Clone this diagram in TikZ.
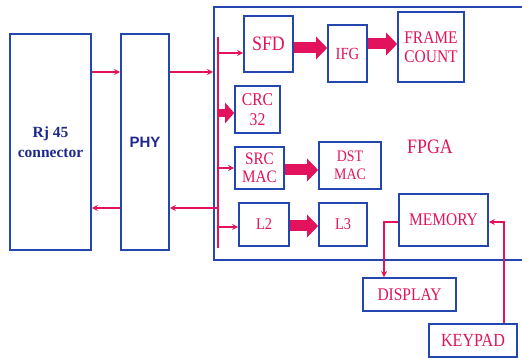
\documentclass[tikz,border=0pt]{standalone}
\usepackage{fontspec}
\setmainfont{Liberation Serif}[FakeStretch=0.87]
\newfontfamily\rjfont{Liberation Serif}
\newfontfamily\arialfont{Liberation Sans}
\usetikzlibrary{arrows.meta,calc}
\definecolor{bblue}{RGB}{35,70,175}
\definecolor{dblue}{RGB}{30,40,140}
\definecolor{pink}{RGB}{226,18,92}
\tikzset{
  box/.style={draw=bblue,line width=1.6pt,inner sep=0pt,align=center,text=pink,font=\fontsize{17.8}{19}\selectfont},
  thin arrow/.style={draw=pink,line width=1.2pt,-{Stealth[length=6pt,width=6pt]}},
  thick arrow/.style={draw=pink,line width=11pt,-{Triangle[length=11pt,width=22pt]}},
}
\begin{document}
\begin{tikzpicture}[x=1pt,y=-1pt]
\useasboundingbox (0,0) rectangle (522,358);
\clip (0,0) rectangle (522,358);
% FPGA outline
\node[draw=bblue,line width=1.6pt,minimum width=330pt,minimum height=253pt,inner sep=0pt,anchor=north west] (fpga) at (213,6) {};
\node[text=pink,font=\fontsize{20.5}{22}\selectfont] (fpgalabel) at (430,147) {FPGA};
% left blocks
\node[box,minimum width=81pt,minimum height=216pt,text=dblue,font=\rjfont\bfseries\fontsize{15.5}{20}\selectfont] (rj) at (50.5,142) {Rj 45\\connector};
\node[box,minimum width=48pt,minimum height=216pt,text=dblue,font=\arialfont\bfseries\fontsize{15}{18}\selectfont] (phy) at (145,142) {PHY};
% FPGA blocks
\node[box,minimum width=49pt,minimum height=56pt,font=\fontsize{20.5}{22}\selectfont] (sfd) at (268.5,44) {SFD};
\node[box,minimum width=39pt,minimum height=57pt,font=\fontsize{17}{19}\selectfont] (ifg) at (347.5,53.5) {IFG};
\node[box,minimum width=66pt,minimum height=70pt,font=\fontsize{17.8}{19}\selectfont] (frame) at (431,47) {FRAME\\COUNT};
\node[box,minimum width=45pt,minimum height=47pt,font=\fontsize{18}{20}\selectfont] (crc) at (257.5,109.5) {CRC\\32};
\node[box,minimum width=49pt,minimum height=42pt,font=\fontsize{17.5}{18.5}\selectfont] (src) at (259.5,168) {SRC\\MAC};
\node[box,minimum width=62pt,minimum height=47pt,font=\fontsize{16}{18}\selectfont] (dst) at (350,165.5) {DST\\MAC};
\node[box,minimum width=50pt,minimum height=43pt,font=\fontsize{16.5}{18}\selectfont] (ltwo) at (264,224.5) {L2};
\node[box,minimum width=48pt,minimum height=43pt,font=\fontsize{16.5}{18}\selectfont] (lthree) at (343,224.5) {L3};
\node[box,minimum width=89pt,minimum height=52pt] (mem) at (443.5,220) {MEMORY};
\node[box,minimum width=93pt,minimum height=33pt] (disp) at (409.5,294.5) {DISPLAY};
\node[box,minimum width=88pt,minimum height=33pt,font=\fontsize{18.5}{19}\selectfont] (key) at (473,340.5) {KEYPAD};
% bus
\coordinate (bustop) at (218,37);
\coordinate (busbot) at (218,248);
\draw[pink,line width=2pt] (bustop) -- (busbot);
% thin arrows
\draw[thin arrow] (rj.east |- 0,72) -- (phy.west |- 0,72);
\draw[thin arrow] (phy.east |- 0,72) -- (fpga.west |- 0,72);
\draw[thin arrow] (bustop |- 0,208) -- (phy.east |- 0,208);
\draw[thin arrow] (phy.west |- 0,208) -- (rj.east |- 0,208);
\draw[thin arrow] (bustop |- 0,53) -- (sfd.west |- 0,53);
\draw[thin arrow] (bustop |- 0,168) -- (src.west |- 0,168);
\draw[thin arrow] (bustop |- 0,227) -- (ltwo.west |- 0,227);
\draw[thin arrow] (mem.west |- 0,222) -| (384,0 |- disp.north);
\draw[thin arrow] (504,0 |- key.north) |- (mem.east |- 0,222);
% thick arrows
\draw[pink,line width=8pt,-{Triangle[length=9pt,width=20pt]}] (bustop |- 0,113) -- (crc.west |- 0,113);
\draw[thick arrow] (sfd.east |- 0,48) -- (ifg.west |- 0,48);
\draw[thick arrow] (ifg.east |- 0,44) -- (frame.west |- 0,44);
\draw[thick arrow] (src.east |- 0,170) -- (dst.west |- 0,170);
\draw[thick arrow] (ltwo.east |- 0,226) -- (lthree.west |- 0,226);
\end{tikzpicture}
\end{document}
